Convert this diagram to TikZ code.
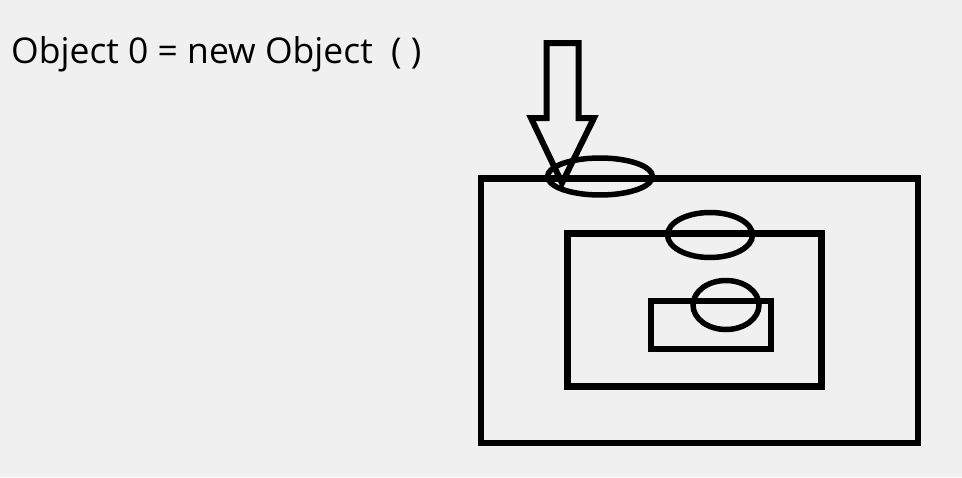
\documentclass[tikz,border=0pt]{standalone}
\usepackage{fontspec}
\setmainfont{Open Sans}
\definecolor{bg}{HTML}{F0F0F0}
\begin{document}
\begin{tikzpicture}[x=1pt,y=-1pt,
  box/.style={draw=black,line width=6.8pt},
  oval/.style={draw=black,line width=5.5pt},
  label/.style={anchor=base west,inner sep=0pt,font=\fontsize{35.5}{40}\selectfont}]
\fill[bg] (0,0) rectangle (962,477);
\useasboundingbox (0,0) rectangle (962,477);
\node[label] (code) at (11,63) {Object 0 = new Object\ \ (\ )};
% rectangles
\draw[box] (481,178.5) rectangle (918,443);
\draw[box] (567.5,233.5) rectangle (821.5,386.5);
\draw[box] (651,301) rectangle (771,349);
% ellipses
\draw[oval] (600,176.5) ellipse [x radius=52.5, y radius=18.5];
\draw[oval] (710,235) ellipse [x radius=42.5, y radius=22.5];
\draw[oval] (726,305) ellipse [x radius=33, y radius=24.5];
% arrow
\draw[box,line width=6pt,line join=miter] (546.5,43) -- (578.5,43) -- (578.5,118) -- (594,118) -- (562,183) -- (531,118) -- (546.5,118) -- cycle;
\end{tikzpicture}
\end{document}
